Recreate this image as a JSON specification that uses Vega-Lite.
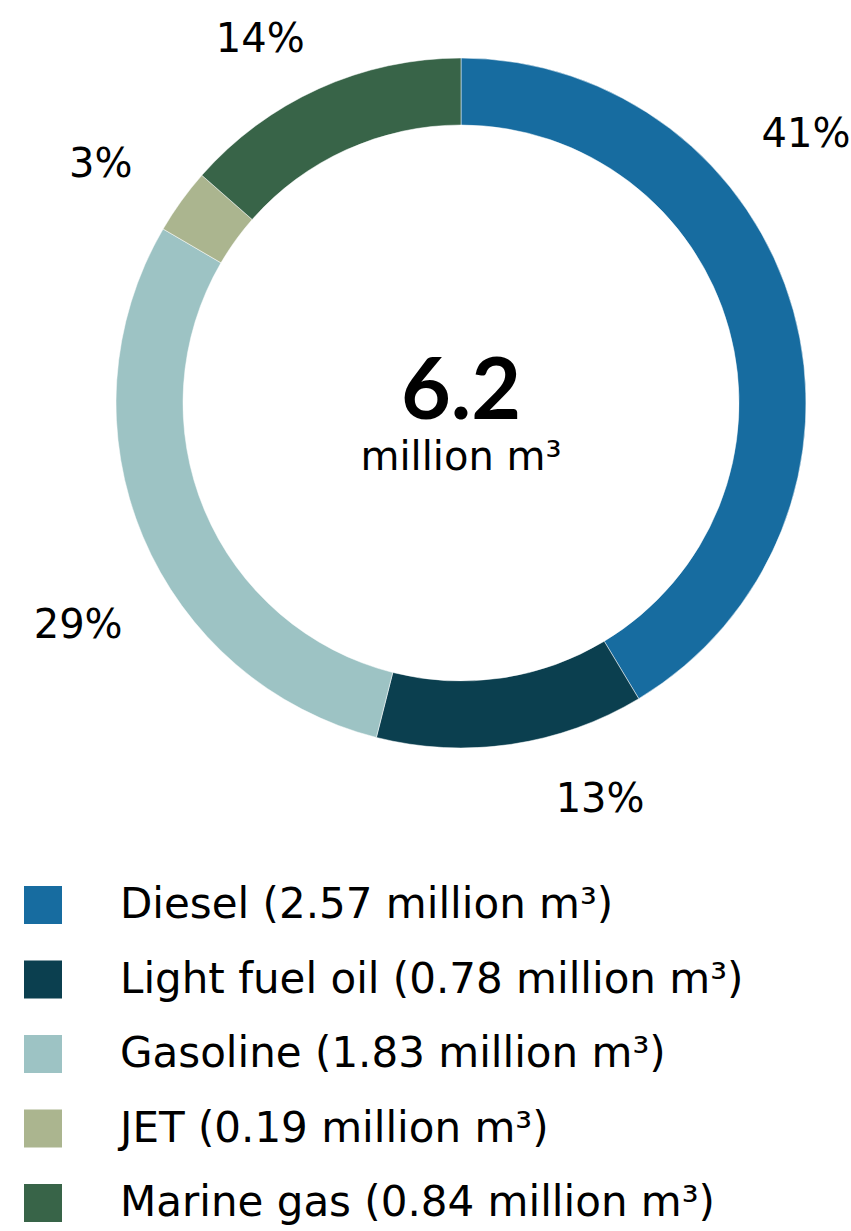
{
  "$schema": "https://vega.github.io/schema/vega-lite/v6.json",
  "autosize": "none",
  "width": 850,
  "height": 806,
  "padding": {"left": 36, "top": 0, "right": -35, "bottom": 425},
  "background": "white",
  "config": {"view": {"stroke": null}, "font": "DejaVu Sans"},
  "data": {
    "values": [
      {"idx": 1, "fuel": "Diesel", "name": "Diesel (2.57 million m³)", "value": 2.57, "pct": "41%"},
      {"idx": 2, "fuel": "Light fuel oil", "name": "Light fuel oil (0.78 million m³)", "value": 0.78, "pct": "13%"},
      {"idx": 3, "fuel": "Gasoline", "name": "Gasoline (1.83 million m³)", "value": 1.83, "pct": "29%"},
      {"idx": 4, "fuel": "JET", "name": "JET (0.19 million m³)", "value": 0.19, "pct": "3%"},
      {"idx": 5, "fuel": "Marine gas", "name": "Marine gas (0.84 million m³)", "value": 0.84, "pct": "14%"}
    ]
  },
  "layer": [
    {
      "mark": {"type": "arc", "outerRadius": 345, "innerRadius": 278, "stroke": "white", "strokeWidth": 0.5},
      "encoding": {
        "theta": {"field": "value", "type": "quantitative", "stack": true},
        "order": {"field": "idx", "type": "quantitative"},
        "color": {
          "field": "name",
          "type": "nominal",
          "sort": null,
          "scale": {
            "domain": ["Diesel (2.57 million m³)", "Light fuel oil (0.78 million m³)", "Gasoline (1.83 million m³)", "JET (0.19 million m³)", "Marine gas (0.84 million m³)"],
            "range": ["#176ca0", "#0b3f4f", "#9dc3c4", "#abb58f", "#386448"]
          },
          "legend": {
            "orient": "none",
            "legendX": -14,
            "legendY": 884,
            "title": null,
            "symbolType": "square",
            "symbolSize": 1444,
            "symbolStrokeWidth": 0,
            "symbolOffset": 0,
            "labelFontSize": 42,
            "labelFont": "DejaVu Sans",
            "labelColor": "#000000",
            "labelOffset": 56,
            "labelLimit": 900,
            "rowPadding": 32.5,
            "padding": 0
          }
        }
      }
    },
    {
      "mark": {"type": "text", "fontSize": 40, "color": "#000000", "align": "center", "baseline": "middle",
        "thetaOffset": {"expr": "datum.fuel === 'Diesel' ? -0.39 : datum.fuel === 'Light fuel oil' ? -0.19 : datum.fuel === 'Gasoline' ? -0.13 : datum.fuel === 'JET' ? -0.04 : -0.08"},
        "radiusOffset": {"expr": "datum.fuel === 'Diesel' ? 6 : datum.fuel === 'Light fuel oil' ? -10 : datum.fuel === 'Gasoline' ? 12 : datum.fuel === 'JET' ? 1 : -16"}},
      "encoding": {
        "theta": {"field": "value", "type": "quantitative", "stack": true},
        "order": {"field": "idx", "type": "quantitative"},
        "radius": {"value": 431},
        "text": {"field": "pct"}
      }
    },
    {
      "data": {"values": [{"big": "6.2", "unit": "million m³"}]},
      "mark": {"type": "text", "fontSize": 86, "fontWeight": "bold", "font": "Lato", "color": "#000000", "align": "center", "baseline": "middle", "dy": -10},
      "encoding": {"text": {"field": "big"}}
    },
    {
      "data": {"values": [{"big": "6.2", "unit": "million m³"}]},
      "mark": {"type": "text", "fontSize": 40, "color": "#000000", "align": "center", "baseline": "middle", "dy": 55},
      "encoding": {"text": {"field": "unit"}}
    }
  ]
}
